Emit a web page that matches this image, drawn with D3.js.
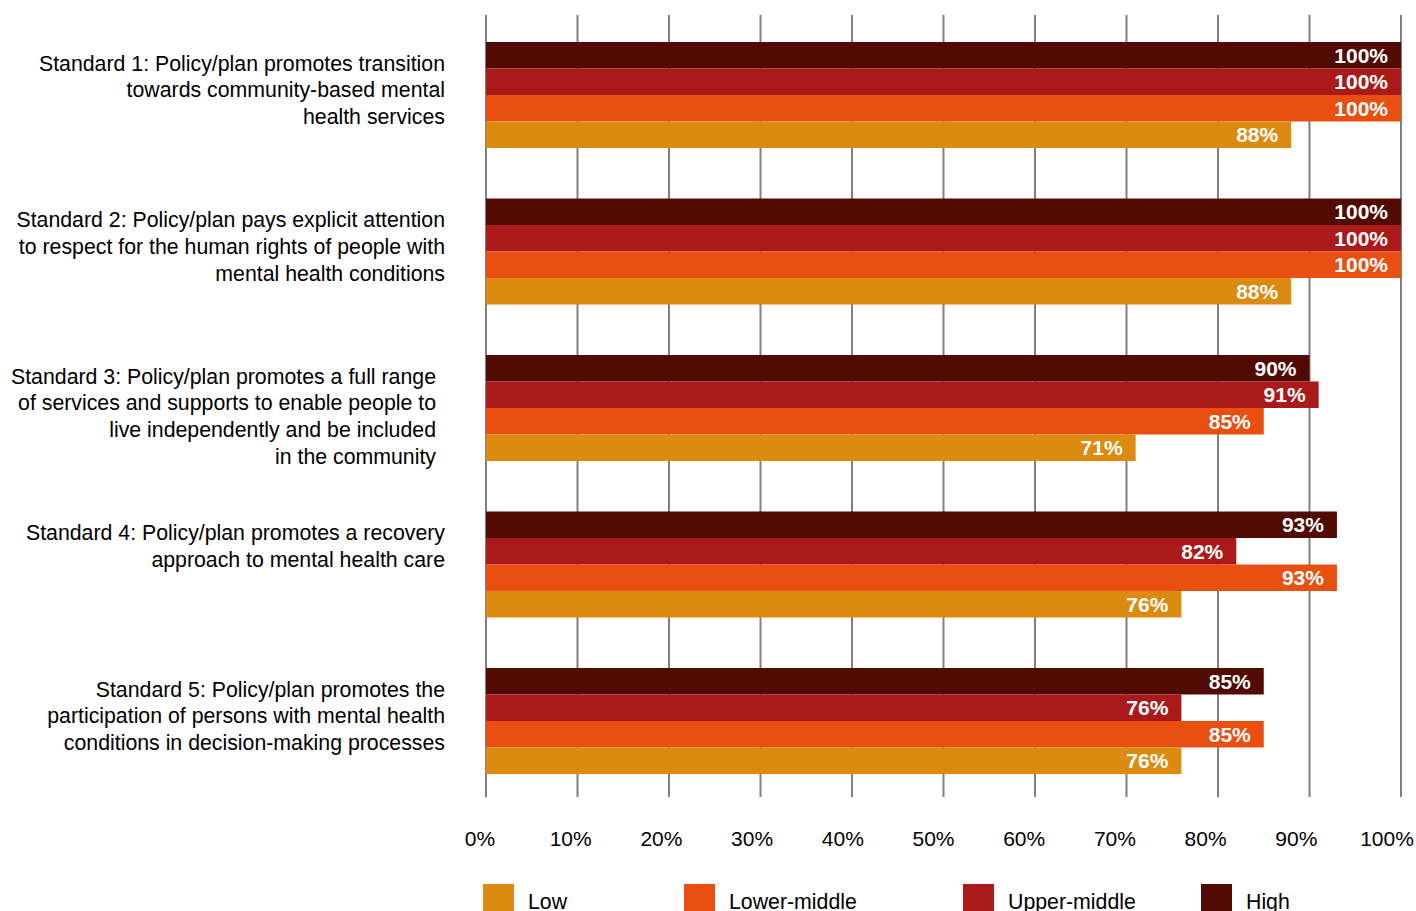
<!DOCTYPE html>
<html>
<head>
<meta charset="utf-8">
<script src="https://cdn.jsdelivr.net/npm/d3@7"></script>
<style>
  html, body { margin: 0; padding: 0; background: #fff; }
  svg { display: block; font-family: "Liberation Sans", Arial, sans-serif; }
</style>
</head>
<body>
<svg id="chart" width="1416" height="911"></svg>
<script>
// Policy/plan standards compliance by income group
const standards = [
  ["Standard 1: Policy/plan promotes transition", "towards community-based mental", "health services"],
  ["Standard 2: Policy/plan pays explicit attention", "to respect for the human rights of people with", "mental health conditions"],
  ["Standard 3: Policy/plan promotes a full range", "of services and supports to enable people to", "live independently and be included", "in the community"],
  ["Standard 4: Policy/plan promotes a recovery", "approach to mental health care"],
  ["Standard 5: Policy/plan promotes the", "participation of persons with mental health", "conditions in decision-making processes"]
];
const groups = ["High", "Upper-middle", "Lower-middle", "Low"];
const legendOrder = ["Low", "Lower-middle", "Upper-middle", "High"];
const highVals        = [100, 100, 90, 93, 85];
const upperMiddleVals = [100, 100, 91, 82, 76];
const lowerMiddleVals = [100, 100, 85, 93, 85];
const lowVals         = [88, 88, 71, 76, 76];
const tickValues = [0, 10, 20, 30, 40, 50, 60, 70, 80, 90, 100];

const colors = {
  "High": "#520b02",
  "Upper-middle": "#ab1a1b",
  "Lower-middle": "#e84f10",
  "Low": "#dc8b10"
};
const valuesBy = {
  "High": highVals,
  "Upper-middle": upperMiddleVals,
  "Lower-middle": lowerMiddleVals,
  "Low": lowVals
};

const svg = d3.select("#chart");

const x = d3.scaleLinear().domain([0, 100]).range([486, 1401]);
// tick labels are spread a little narrower than the gridlines
const xLabel = d3.scaleLinear().domain([0, 100]).range([480, 1387]);

// each group spans 106px with a 156.5px step
const y0 = d3.scaleBand().domain(d3.range(standards.length))
  .range([42, 42 + 156.5 * 4 + 106]).paddingInner(50.5 / 156.5).paddingOuter(0);
const y1 = d3.scaleBand().domain(groups).range([0, y0.bandwidth()]).padding(0);

// gridlines
svg.append("g").selectAll("line").data(tickValues).join("line")
  .attr("x1", d => x(d)).attr("x2", d => x(d))
  .attr("y1", 15).attr("y2", 797)
  .attr("stroke", "#808080").attr("stroke-width", 2);

// bars
const rows = [];
standards.forEach((s, i) => groups.forEach(g => rows.push({ i, g, v: valuesBy[g][i] })));

svg.append("g").selectAll("rect").data(rows).join("rect")
  .attr("x", x(0))
  .attr("y", d => y0(d.i) + y1(d.g))
  .attr("width", d => x(d.v) - x(0))
  .attr("height", y1.bandwidth())
  .attr("fill", d => colors[d.g]);

// value labels
svg.append("g").selectAll("text").data(rows).join("text")
  .attr("x", d => x(d.v) - 13)
  .attr("y", d => y0(d.i) + y1(d.g) + y1.bandwidth() / 2)
  .attr("dy", "0.36em")
  .attr("text-anchor", "end")
  .attr("fill", "#fff")
  .attr("font-weight", "bold")
  .attr("font-size", 21)
  .text(d => d.v + "%");

// category labels
const labelInset = [0, 0, 9, 0, 0];
const cat = svg.append("g").selectAll("text").data(standards).join("text")
  .attr("text-anchor", "end")
  .attr("font-size", 21.3)
  .attr("fill", "#000");
cat.each(function (lines, i) {
  const t = d3.select(this);
  lines.forEach((ln, k) => {
    t.append("tspan")
      .attr("x", 445 - labelInset[i])
      .attr("y", y0(i) + 21 + k * 26.8)
      .attr("dy", "0.36em")
      .text(ln);
  });
});

// x tick labels
svg.append("g").selectAll("text").data(tickValues).join("text")
  .attr("x", d => xLabel(d))
  .attr("y", 838)
  .attr("dy", "0.36em")
  .attr("text-anchor", "middle")
  .attr("font-size", 21)
  .attr("fill", "#000")
  .text(d => d + "%");

// legend
const legendX = [483, 684, 963, 1201];
const lg = svg.append("g").selectAll("g").data(legendOrder).join("g")
  .attr("transform", (d, i) => `translate(${legendX[i]},884)`);
lg.append("rect").attr("width", 31).attr("height", 28).attr("fill", d => colors[d]);
lg.append("text").attr("x", 45).attr("y", 17).attr("dy", "0.36em")
  .attr("font-size", 21.3).attr("fill", "#000").text(d => d);
</script>
</body>
</html>
